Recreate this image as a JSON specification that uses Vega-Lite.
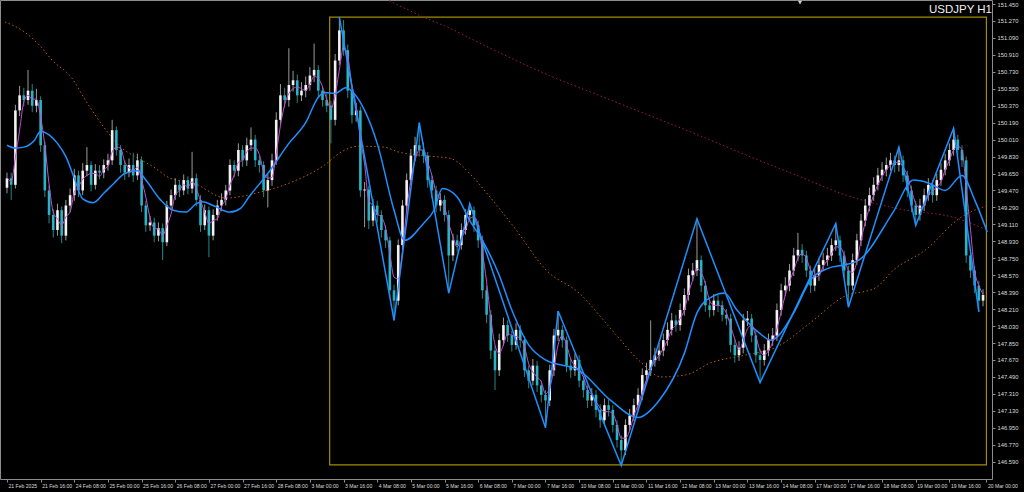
{
"$schema": "https://vega.github.io/schema/vega-lite/v6.json",
"width": 992, "height": 479,
"autosize": {"type": "none"},
"padding": {"left": 0, "top": 0, "right": 32, "bottom": 13},
"background": "#000000",
"config": {"view": {"stroke": "#8c8c8c", "strokeWidth": 1}, "axis": {"grid": false}},
"title": {"text": "USDJPY H1", "anchor": "end", "frame": "group", "offset": -15, "fontSize": 11.5, "font": "Liberation Sans", "fontWeight": "normal", "color": "#f0f0f0"},
"datasets": {
"candles": [
{"i":0,"o":149.5,"c":149.6,"h":149.66,"l":149.44,"m":149.6},
{"i":2,"o":149.6,"c":149.53,"h":149.66,"l":149.37,"m":149.57},
{"i":4,"o":149.53,"c":150.32,"h":150.38,"l":149.49,"m":149.82},
{"i":6,"o":150.32,"c":150.48,"h":150.58,"l":150.26,"m":150.11},
{"i":8,"o":150.48,"c":150.43,"h":150.56,"l":150.36,"m":150.41},
{"i":10,"o":150.43,"c":150.53,"h":150.75,"l":150.38,"m":150.48},
{"i":12,"o":150.53,"c":150.37,"h":150.6,"l":150.3,"m":150.44},
{"i":14,"o":150.37,"c":150.43,"h":150.55,"l":150.3,"m":150.44},
{"i":16,"o":150.43,"c":149.95,"h":150.47,"l":149.88,"m":150.25},
{"i":18,"o":149.95,"c":149.47,"h":149.99,"l":149.4,"m":149.95},
{"i":20,"o":149.47,"c":149.21,"h":149.52,"l":149.12,"m":149.54},
{"i":22,"o":149.21,"c":149.05,"h":149.27,"l":148.97,"m":149.24},
{"i":24,"o":149.05,"c":149.26,"h":149.33,"l":148.99,"m":149.17},
{"i":26,"o":149.26,"c":148.99,"h":149.3,"l":148.91,"m":149.1},
{"i":28,"o":148.99,"c":149.31,"h":149.37,"l":148.94,"m":149.19},
{"i":30,"o":149.31,"c":149.42,"h":149.49,"l":149.24,"m":149.24},
{"i":32,"o":149.42,"c":149.63,"h":149.7,"l":149.36,"m":149.45},
{"i":34,"o":149.63,"c":149.47,"h":149.68,"l":149.4,"m":149.51},
{"i":36,"o":149.47,"c":149.68,"h":149.76,"l":149.42,"m":149.59},
{"i":38,"o":149.68,"c":149.74,"h":149.93,"l":149.62,"m":149.63},
{"i":40,"o":149.74,"c":149.53,"h":149.78,"l":149.46,"m":149.65},
{"i":42,"o":149.53,"c":149.68,"h":149.75,"l":149.48,"m":149.65},
{"i":44,"o":149.68,"c":149.66,"h":149.74,"l":149.59,"m":149.62},
{"i":46,"o":149.66,"c":149.74,"h":149.8,"l":149.6,"m":149.69},
{"i":48,"o":149.74,"c":149.79,"h":149.86,"l":149.68,"m":149.73},
{"i":50,"o":149.79,"c":150.11,"h":150.22,"l":149.74,"m":149.88},
{"i":52,"o":150.11,"c":149.9,"h":150.15,"l":149.84,"m":149.93},
{"i":54,"o":149.9,"c":149.74,"h":149.95,"l":149.66,"m":149.92},
{"i":56,"o":149.74,"c":149.66,"h":149.79,"l":149.58,"m":149.77},
{"i":58,"o":149.66,"c":149.74,"h":149.81,"l":149.61,"m":149.71},
{"i":60,"o":149.74,"c":149.63,"h":149.87,"l":149.56,"m":149.68},
{"i":62,"o":149.63,"c":149.79,"h":149.86,"l":149.58,"m":149.72},
{"i":64,"o":149.79,"c":149.31,"h":149.83,"l":149.24,"m":149.58},
{"i":66,"o":149.31,"c":149.1,"h":149.36,"l":149.03,"m":149.4},
{"i":68,"o":149.1,"c":149.13,"h":149.2,"l":149.04,"m":149.18},
{"i":70,"o":149.13,"c":148.99,"h":149.18,"l":148.92,"m":149.07},
{"i":72,"o":148.99,"c":149.07,"h":149.13,"l":148.93,"m":149.06},
{"i":74,"o":149.07,"c":148.92,"h":149.12,"l":148.73,"m":148.99},
{"i":76,"o":148.92,"c":149.31,"h":149.36,"l":148.88,"m":149.1},
{"i":78,"o":149.31,"c":149.42,"h":149.48,"l":149.26,"m":149.22},
{"i":80,"o":149.42,"c":149.53,"h":149.6,"l":149.37,"m":149.42},
{"i":82,"o":149.53,"c":149.47,"h":149.58,"l":149.4,"m":149.47},
{"i":84,"o":149.47,"c":149.58,"h":149.64,"l":149.42,"m":149.53},
{"i":86,"o":149.58,"c":149.49,"h":149.62,"l":149.43,"m":149.51},
{"i":88,"o":149.49,"c":149.6,"h":149.88,"l":149.44,"m":149.56},
{"i":90,"o":149.6,"c":149.37,"h":149.65,"l":149.3,"m":149.49},
{"i":92,"o":149.37,"c":149.1,"h":149.42,"l":149.03,"m":149.36},
{"i":94,"o":149.1,"c":149.26,"h":149.32,"l":149.05,"m":149.24},
{"i":96,"o":149.26,"c":148.99,"h":149.3,"l":148.76,"m":149.12},
{"i":98,"o":148.99,"c":149.21,"h":149.27,"l":148.94,"m":149.15},
{"i":100,"o":149.21,"c":149.31,"h":149.37,"l":149.15,"m":149.17},
{"i":102,"o":149.31,"c":149.37,"h":149.44,"l":149.25,"m":149.3},
{"i":104,"o":149.37,"c":149.47,"h":149.53,"l":149.31,"m":149.38},
{"i":106,"o":149.47,"c":149.74,"h":149.8,"l":149.42,"m":149.53},
{"i":108,"o":149.74,"c":149.68,"h":149.79,"l":149.61,"m":149.63},
{"i":110,"o":149.68,"c":149.9,"h":149.97,"l":149.62,"m":149.77},
{"i":112,"o":149.9,"c":149.79,"h":149.95,"l":149.72,"m":149.79},
{"i":114,"o":149.79,"c":149.95,"h":150.03,"l":149.73,"m":149.88},
{"i":116,"o":149.95,"c":150.01,"h":150.14,"l":149.89,"m":149.92},
{"i":118,"o":150.01,"c":149.79,"h":150.06,"l":149.72,"m":149.92},
{"i":120,"o":149.79,"c":149.74,"h":149.84,"l":149.66,"m":149.85},
{"i":122,"o":149.74,"c":149.47,"h":149.78,"l":149.4,"m":149.67},
{"i":124,"o":149.47,"c":149.58,"h":149.64,"l":149.29,"m":149.6},
{"i":126,"o":149.58,"c":149.79,"h":149.86,"l":149.52,"m":149.61},
{"i":128,"o":149.79,"c":150.22,"h":150.3,"l":149.74,"m":149.86},
{"i":130,"o":150.22,"c":150.48,"h":150.6,"l":150.16,"m":150.16},
{"i":132,"o":150.48,"c":150.43,"h":150.56,"l":150.35,"m":150.38},
{"i":134,"o":150.43,"c":150.59,"h":150.98,"l":150.36,"m":150.5},
{"i":136,"o":150.59,"c":150.64,"h":150.74,"l":150.52,"m":150.55},
{"i":138,"o":150.64,"c":150.48,"h":150.7,"l":150.4,"m":150.57},
{"i":140,"o":150.48,"c":150.53,"h":150.62,"l":150.42,"m":150.55},
{"i":142,"o":150.53,"c":150.59,"h":150.68,"l":150.46,"m":150.53},
{"i":144,"o":150.59,"c":150.69,"h":150.78,"l":150.53,"m":150.6},
{"i":146,"o":150.69,"c":150.75,"h":151.03,"l":150.62,"m":150.68},
{"i":148,"o":150.75,"c":150.53,"h":150.8,"l":150.46,"m":150.66},
{"i":150,"o":150.53,"c":150.43,"h":150.58,"l":150.36,"m":150.57},
{"i":152,"o":150.43,"c":150.37,"h":150.5,"l":150.3,"m":150.44},
{"i":154,"o":150.37,"c":150.22,"h":150.42,"l":149.97,"m":150.34},
{"i":156,"o":150.22,"c":150.85,"h":150.92,"l":150.16,"m":150.48},
{"i":158,"o":150.85,"c":151.17,"h":151.31,"l":150.8,"m":150.75},
{"i":160,"o":151.17,"c":150.96,"h":151.28,"l":150.9,"m":150.99},
{"i":162,"o":150.96,"c":150.53,"h":151.02,"l":150.45,"m":150.89},
{"i":164,"o":150.53,"c":150.27,"h":150.58,"l":150.18,"m":150.59},
{"i":166,"o":150.27,"c":150.32,"h":150.4,"l":150.2,"m":150.37},
{"i":168,"o":150.32,"c":149.47,"h":150.36,"l":149.4,"m":150.02},
{"i":170,"o":149.47,"c":149.48,"h":149.56,"l":149.08,"m":149.75},
{"i":172,"o":149.48,"c":149.15,"h":149.52,"l":149.06,"m":149.36},
{"i":174,"o":149.15,"c":149.31,"h":149.38,"l":149.09,"m":149.31},
{"i":176,"o":149.31,"c":149.21,"h":149.36,"l":149.13,"m":149.22},
{"i":178,"o":149.21,"c":149.05,"h":149.26,"l":148.97,"m":149.19},
{"i":180,"o":149.05,"c":148.94,"h":149.1,"l":148.86,"m":149.07},
{"i":182,"o":148.94,"c":148.41,"h":148.98,"l":148.33,"m":148.8},
{"i":184,"o":148.41,"c":148.3,"h":148.47,"l":148.09,"m":148.55},
{"i":186,"o":148.3,"c":148.89,"h":148.95,"l":148.25,"m":148.53},
{"i":188,"o":148.89,"c":149.31,"h":149.37,"l":148.84,"m":148.83},
{"i":190,"o":149.31,"c":149.58,"h":149.65,"l":149.25,"m":149.26},
{"i":192,"o":149.58,"c":149.84,"h":149.91,"l":149.52,"m":149.58},
{"i":194,"o":149.84,"c":149.95,"h":150.04,"l":149.78,"m":149.79},
{"i":196,"o":149.95,"c":149.9,"h":150.19,"l":149.83,"m":149.9},
{"i":198,"o":149.9,"c":149.84,"h":149.98,"l":149.76,"m":149.9},
{"i":200,"o":149.84,"c":149.58,"h":149.88,"l":149.5,"m":149.77},
{"i":202,"o":149.58,"c":149.47,"h":149.63,"l":149.39,"m":149.63},
{"i":204,"o":149.47,"c":149.31,"h":149.52,"l":149.24,"m":149.45},
{"i":206,"o":149.31,"c":149.37,"h":149.44,"l":149.25,"m":149.38},
{"i":208,"o":149.37,"c":149.21,"h":149.42,"l":149.14,"m":149.3},
{"i":210,"o":149.21,"c":148.78,"h":149.26,"l":148.38,"m":149.12},
{"i":212,"o":148.78,"c":148.94,"h":149.01,"l":148.72,"m":148.98},
{"i":214,"o":148.94,"c":148.89,"h":149.0,"l":148.82,"m":148.87},
{"i":216,"o":148.89,"c":149.05,"h":149.12,"l":148.84,"m":148.96},
{"i":218,"o":149.05,"c":149.21,"h":149.27,"l":149.0,"m":149.05},
{"i":220,"o":149.21,"c":149.26,"h":149.33,"l":149.15,"m":149.17},
{"i":222,"o":149.26,"c":149.1,"h":149.3,"l":149.03,"m":149.19},
{"i":224,"o":149.1,"c":148.94,"h":149.15,"l":148.86,"m":149.1},
{"i":226,"o":148.94,"c":148.41,"h":148.99,"l":148.32,"m":148.82},
{"i":228,"o":148.41,"c":148.15,"h":148.46,"l":148.06,"m":148.5},
{"i":230,"o":148.15,"c":147.77,"h":148.2,"l":147.68,"m":148.11},
{"i":232,"o":147.77,"c":147.56,"h":147.82,"l":147.35,"m":147.83},
{"i":234,"o":147.56,"c":147.88,"h":147.95,"l":147.5,"m":147.74},
{"i":236,"o":147.88,"c":148.04,"h":148.12,"l":147.82,"m":147.83},
{"i":238,"o":148.04,"c":147.93,"h":148.09,"l":147.86,"m":147.95},
{"i":240,"o":147.93,"c":147.83,"h":147.98,"l":147.76,"m":147.93},
{"i":242,"o":147.83,"c":147.99,"h":148.06,"l":147.78,"m":147.92},
{"i":244,"o":147.99,"c":147.88,"h":148.04,"l":147.8,"m":147.9},
{"i":246,"o":147.88,"c":147.56,"h":147.92,"l":147.49,"m":147.81},
{"i":248,"o":147.56,"c":147.45,"h":147.61,"l":147.37,"m":147.63},
{"i":250,"o":147.45,"c":147.61,"h":147.68,"l":147.4,"m":147.54},
{"i":252,"o":147.61,"c":147.4,"h":147.66,"l":147.33,"m":147.49},
{"i":254,"o":147.4,"c":147.3,"h":147.45,"l":147.22,"m":147.44},
{"i":256,"o":147.3,"c":147.24,"h":147.35,"l":146.95,"m":147.31},
{"i":258,"o":147.24,"c":147.56,"h":147.62,"l":147.18,"m":147.37},
{"i":260,"o":147.56,"c":147.93,"h":148.0,"l":147.5,"m":147.58},
{"i":262,"o":147.93,"c":147.99,"h":148.19,"l":147.87,"m":147.83},
{"i":264,"o":147.99,"c":147.88,"h":148.04,"l":147.8,"m":147.93},
{"i":266,"o":147.88,"c":147.61,"h":147.92,"l":147.54,"m":147.83},
{"i":268,"o":147.61,"c":147.56,"h":147.68,"l":147.48,"m":147.68},
{"i":270,"o":147.56,"c":147.67,"h":147.74,"l":147.5,"m":147.61},
{"i":272,"o":147.67,"c":147.45,"h":147.72,"l":147.38,"m":147.56},
{"i":274,"o":147.45,"c":147.35,"h":147.5,"l":147.27,"m":147.49},
{"i":276,"o":147.35,"c":147.24,"h":147.4,"l":147.16,"m":147.35},
{"i":278,"o":147.24,"c":147.3,"h":147.37,"l":147.18,"m":147.3},
{"i":280,"o":147.3,"c":147.14,"h":147.35,"l":147.06,"m":147.23},
{"i":282,"o":147.14,"c":147.03,"h":147.2,"l":146.95,"m":147.16},
{"i":284,"o":147.03,"c":147.19,"h":147.26,"l":146.98,"m":147.12},
{"i":286,"o":147.19,"c":147.14,"h":147.25,"l":147.07,"m":147.12},
{"i":288,"o":147.14,"c":146.98,"h":147.19,"l":146.9,"m":147.1},
{"i":290,"o":146.98,"c":146.82,"h":147.03,"l":146.74,"m":146.98},
{"i":292,"o":146.82,"c":146.71,"h":146.87,"l":146.55,"m":146.84},
{"i":294,"o":146.71,"c":146.98,"h":147.04,"l":146.66,"m":146.84},
{"i":296,"o":146.98,"c":147.08,"h":147.15,"l":146.92,"m":146.92},
{"i":298,"o":147.08,"c":147.19,"h":147.26,"l":147.02,"m":147.08},
{"i":300,"o":147.19,"c":147.3,"h":147.37,"l":147.13,"m":147.19},
{"i":302,"o":147.3,"c":147.51,"h":147.58,"l":147.24,"m":147.33},
{"i":304,"o":147.51,"c":147.56,"h":147.64,"l":147.45,"m":147.46},
{"i":306,"o":147.56,"c":147.67,"h":148.09,"l":147.5,"m":147.58},
{"i":308,"o":147.67,"c":147.72,"h":147.8,"l":147.6,"m":147.65},
{"i":310,"o":147.72,"c":147.77,"h":147.85,"l":147.66,"m":147.72},
{"i":312,"o":147.77,"c":147.88,"h":147.95,"l":147.71,"m":147.79},
{"i":314,"o":147.88,"c":147.99,"h":148.07,"l":147.82,"m":147.88},
{"i":316,"o":147.99,"c":148.09,"h":148.17,"l":147.93,"m":147.99},
{"i":318,"o":148.09,"c":148.04,"h":148.15,"l":147.97,"m":148.04},
{"i":320,"o":148.04,"c":148.2,"h":148.27,"l":147.98,"m":148.11},
{"i":322,"o":148.2,"c":148.36,"h":148.43,"l":148.14,"m":148.2},
{"i":324,"o":148.36,"c":148.57,"h":148.64,"l":148.3,"m":148.38},
{"i":326,"o":148.57,"c":148.62,"h":148.7,"l":148.51,"m":148.52},
{"i":328,"o":148.62,"c":148.73,"h":149.17,"l":148.56,"m":148.64},
{"i":330,"o":148.73,"c":148.46,"h":148.78,"l":148.39,"m":148.6},
{"i":332,"o":148.46,"c":148.25,"h":148.51,"l":148.18,"m":148.48},
{"i":334,"o":148.25,"c":148.2,"h":148.31,"l":148.12,"m":148.3},
{"i":336,"o":148.2,"c":148.3,"h":148.37,"l":148.14,"m":148.25},
{"i":338,"o":148.3,"c":148.25,"h":148.36,"l":148.18,"m":148.25},
{"i":340,"o":148.25,"c":148.15,"h":148.3,"l":148.08,"m":148.23},
{"i":342,"o":148.15,"c":148.11,"h":148.21,"l":148.04,"m":148.17},
{"i":344,"o":148.11,"c":147.83,"h":148.16,"l":147.75,"m":148.03},
{"i":346,"o":147.83,"c":147.72,"h":147.89,"l":147.64,"m":147.89},
{"i":348,"o":147.72,"c":147.8,"h":147.87,"l":147.66,"m":147.78},
{"i":350,"o":147.8,"c":148.09,"h":148.16,"l":147.74,"m":147.87},
{"i":352,"o":148.09,"c":148.11,"h":148.19,"l":148.03,"m":148.0},
{"i":354,"o":148.11,"c":147.93,"h":148.16,"l":147.86,"m":148.04},
{"i":356,"o":147.93,"c":147.72,"h":147.98,"l":147.64,"m":147.92},
{"i":358,"o":147.72,"c":147.67,"h":147.78,"l":147.43,"m":147.77},
{"i":360,"o":147.67,"c":147.77,"h":147.84,"l":147.61,"m":147.72},
{"i":362,"o":147.77,"c":147.88,"h":147.95,"l":147.71,"m":147.77},
{"i":364,"o":147.88,"c":147.93,"h":148.01,"l":147.82,"m":147.86},
{"i":366,"o":147.93,"c":148.2,"h":148.27,"l":147.87,"m":148.0},
{"i":368,"o":148.2,"c":148.41,"h":148.48,"l":148.14,"m":148.18},
{"i":370,"o":148.41,"c":148.46,"h":148.55,"l":148.35,"m":148.36},
{"i":372,"o":148.46,"c":148.62,"h":148.69,"l":148.4,"m":148.5},
{"i":374,"o":148.62,"c":148.78,"h":148.86,"l":148.56,"m":148.62},
{"i":376,"o":148.78,"c":148.84,"h":149.02,"l":148.72,"m":148.75},
{"i":378,"o":148.84,"c":148.78,"h":148.9,"l":148.7,"m":148.8},
{"i":380,"o":148.78,"c":148.62,"h":148.83,"l":148.55,"m":148.75},
{"i":382,"o":148.62,"c":148.46,"h":148.67,"l":148.38,"m":148.62},
{"i":384,"o":148.46,"c":148.57,"h":148.64,"l":148.4,"m":148.55},
{"i":386,"o":148.57,"c":148.68,"h":148.75,"l":148.51,"m":148.57},
{"i":388,"o":148.68,"c":148.73,"h":148.81,"l":148.62,"m":148.66},
{"i":390,"o":148.73,"c":148.78,"h":148.86,"l":148.67,"m":148.73},
{"i":392,"o":148.78,"c":148.89,"h":148.96,"l":148.72,"m":148.8},
{"i":394,"o":148.89,"c":148.94,"h":149.12,"l":148.83,"m":148.87},
{"i":396,"o":148.94,"c":148.78,"h":148.99,"l":148.71,"m":148.87},
{"i":398,"o":148.78,"c":148.62,"h":148.83,"l":148.55,"m":148.78},
{"i":400,"o":148.62,"c":148.46,"h":148.67,"l":148.23,"m":148.62},
{"i":402,"o":148.46,"c":148.73,"h":148.8,"l":148.41,"m":148.6},
{"i":404,"o":148.73,"c":148.94,"h":149.01,"l":148.68,"m":148.71},
{"i":406,"o":148.94,"c":149.15,"h":149.22,"l":148.88,"m":148.94},
{"i":408,"o":149.15,"c":149.31,"h":149.38,"l":149.09,"m":149.13},
{"i":410,"o":149.31,"c":149.42,"h":149.5,"l":149.25,"m":149.29},
{"i":412,"o":149.42,"c":149.53,"h":149.61,"l":149.36,"m":149.42},
{"i":414,"o":149.53,"c":149.63,"h":149.71,"l":149.47,"m":149.53},
{"i":416,"o":149.63,"c":149.69,"h":149.77,"l":149.57,"m":149.62},
{"i":418,"o":149.69,"c":149.74,"h":149.82,"l":149.62,"m":149.69},
{"i":420,"o":149.74,"c":149.79,"h":149.87,"l":149.68,"m":149.74},
{"i":422,"o":149.79,"c":149.74,"h":149.84,"l":149.66,"m":149.76},
{"i":424,"o":149.74,"c":149.79,"h":149.93,"l":149.67,"m":149.77},
{"i":426,"o":149.79,"c":149.63,"h":149.84,"l":149.56,"m":149.72},
{"i":428,"o":149.63,"c":149.47,"h":149.68,"l":149.4,"m":149.63},
{"i":430,"o":149.47,"c":149.31,"h":149.52,"l":149.24,"m":149.47},
{"i":432,"o":149.31,"c":149.21,"h":149.36,"l":149.1,"m":149.33},
{"i":434,"o":149.21,"c":149.31,"h":149.38,"l":149.15,"m":149.28},
{"i":436,"o":149.31,"c":149.42,"h":149.49,"l":149.25,"m":149.31},
{"i":438,"o":149.42,"c":149.53,"h":149.6,"l":149.36,"m":149.42},
{"i":440,"o":149.53,"c":149.42,"h":149.58,"l":149.34,"m":149.46},
{"i":442,"o":149.42,"c":149.58,"h":149.65,"l":149.36,"m":149.51},
{"i":444,"o":149.58,"c":149.69,"h":149.76,"l":149.52,"m":149.56},
{"i":446,"o":149.69,"c":149.79,"h":149.86,"l":149.63,"m":149.69},
{"i":448,"o":149.79,"c":149.9,"h":149.97,"l":149.73,"m":149.79},
{"i":450,"o":149.9,"c":150.01,"h":150.13,"l":149.84,"m":149.9},
{"i":452,"o":150.01,"c":149.9,"h":150.06,"l":149.83,"m":149.94},
{"i":454,"o":149.9,"c":149.79,"h":149.95,"l":149.72,"m":149.9},
{"i":456,"o":149.79,"c":148.78,"h":149.83,"l":148.7,"m":149.49},
{"i":458,"o":148.78,"c":148.62,"h":148.84,"l":148.54,"m":149.06},
{"i":460,"o":148.62,"c":148.46,"h":148.67,"l":148.38,"m":148.62},
{"i":462,"o":148.46,"c":148.3,"h":148.51,"l":148.18,"m":148.46},
{"i":464,"o":148.3,"c":148.36,"h":148.42,"l":148.24,"m":148.37}
],
"ma": [
{"i":0,"p":149.95},{"i":4,"p":149.92},{"i":8,"p":149.93},{"i":13,"p":150.0},{"i":16,"p":150.1},{"i":20,"p":150.06},{"i":24,"p":149.97},{"i":28,"p":149.83},{"i":32,"p":149.6},{"i":36,"p":149.38},{"i":41,"p":149.34},{"i":46,"p":149.44},{"i":51,"p":149.55},{"i":56,"p":149.65},{"i":62,"p":149.68},{"i":66,"p":149.58},{"i":73,"p":149.37},{"i":79,"p":149.26},{"i":85,"p":149.24},{"i":90,"p":149.33},{"i":93,"p":149.35},{"i":98,"p":149.31},{"i":106,"p":149.24},{"i":111,"p":149.28},{"i":115,"p":149.4},{"i":125,"p":149.68},{"i":134,"p":149.97},{"i":142,"p":150.19},{"i":148,"p":150.46},{"i":151,"p":150.51},{"i":156,"p":150.5},{"i":161,"p":150.56},{"i":165,"p":150.5},{"i":170,"p":150.32},{"i":176,"p":149.97},{"i":184,"p":149.26},{"i":189,"p":148.94},{"i":198,"p":149.12},{"i":203,"p":149.26},{"i":207,"p":149.49},{"i":214,"p":149.4},{"i":220,"p":149.15},{"i":226,"p":148.94},{"i":234,"p":148.57},{"i":240,"p":148.2},{"i":248,"p":147.83},{"i":256,"p":147.67},{"i":272,"p":147.56},{"i":287,"p":147.24},{"i":300,"p":147.06},{"i":310,"p":147.24},{"i":322,"p":147.74},{"i":328,"p":148.17},{"i":335,"p":148.34},{"i":341,"p":148.38},{"i":347,"p":148.2},{"i":358,"p":147.95},{"i":363,"p":147.88},{"i":374,"p":148.17},{"i":382,"p":148.52},{"i":390,"p":148.64},{"i":398,"p":148.68},{"i":405,"p":148.73},{"i":421,"p":149.23},{"i":431,"p":149.58},{"i":438,"p":149.55},{"i":446,"p":149.47},{"i":454,"p":149.63},{"i":460,"p":149.37},{"i":466,"p":149.03}
],
"ma100": [
{"i":-1,"p":151.26},{"i":8.5,"p":151.15},{"i":15.5,"p":151.01},{"i":21.6,"p":150.85},{"i":30.6,"p":150.67},{"i":38.1,"p":150.4},{"i":46.1,"p":150.14},{"i":54.1,"p":149.93},{"i":61.6,"p":149.82},{"i":69.6,"p":149.72},{"i":77.6,"p":149.6},{"i":88.5,"p":149.55},{"i":104,"p":149.39},{"i":120,"p":149.45},{"i":135.5,"p":149.56},{"i":151,"p":149.74},{"i":159,"p":149.88},{"i":167,"p":149.94},{"i":179.3,"p":149.93},{"i":185.9,"p":149.88},{"i":198.1,"p":149.84},{"i":210.8,"p":149.81},{"i":221.6,"p":149.61},{"i":229.6,"p":149.4},{"i":241.4,"p":149.07},{"i":256.5,"p":148.62},{"i":272,"p":148.38},{"i":287.5,"p":147.99},{"i":301.6,"p":147.64},{"i":311,"p":147.49},{"i":322.4,"p":147.51},{"i":334.6,"p":147.64},{"i":350.6,"p":147.72},{"i":366.1,"p":147.81},{"i":381.6,"p":148.06},{"i":397.6,"p":148.34},{"i":413.2,"p":148.44},{"i":421.2,"p":148.62},{"i":436.7,"p":148.84},{"i":453.2,"p":149.18},{"i":466,"p":149.31}
],
"ma200": [
{"i":173.2,"p":151.58},{"i":184,"p":151.46},{"i":198.1,"p":151.31},{"i":210.8,"p":151.19},{"i":221.6,"p":151.07},{"i":234.4,"p":150.93},{"i":257.9,"p":150.69},{"i":281.4,"p":150.48},{"i":305,"p":150.27},{"i":328.5,"p":150.06},{"i":352,"p":149.84},{"i":375.5,"p":149.63},{"i":399,"p":149.42},{"i":422.6,"p":149.28},{"i":452.2,"p":149.17},{"i":466,"p":149.05}
],
"zz": [
{"i":158,"p":151.31},{"i":184,"p":148.09},{"i":196,"p":150.19},{"i":210,"p":148.38},{"i":220,"p":149.33},{"i":256,"p":146.95},{"i":262,"p":148.19},{"i":292,"p":146.55},{"i":328,"p":149.17},{"i":358,"p":147.43},{"i":394,"p":149.12},{"i":400,"p":148.23},{"i":424,"p":149.93},{"i":432,"p":149.1},{"i":450,"p":150.13},{"i":462,"p":148.18}
],
"box": [{"a":153.4,"b":465.6,"p1":146.555,"p2":151.31}],
"marker": [{"i":377,"p":151.465}]
},
"encoding": {
"x": {"field": "i", "type": "quantitative", "scale": {"domain": [-0.94, 465.88], "nice": false, "zero": false},
"axis": {"title": null, "grid": false, "domain": false,
"values": [0,16,32,48,64,80,96,112,128,144,160,176,192,208,224,240,256,272,288,304,320,336,352,368,384,400,416,432,448,465.6],
"labelExpr": "['21 Feb 2025','21 Feb 16:00','24 Feb 08:00','25 Feb 00:00','25 Feb 16:00','26 Feb 08:00','27 Feb 00:00','27 Feb 16:00','28 Feb 08:00','3 Mar 00:00','3 Mar 16:00','4 Mar 08:00','5 Mar 00:00','5 Mar 16:00','6 Mar 08:00','7 Mar 00:00','7 Mar 16:00','10 Mar 08:00','11 Mar 00:00','11 Mar 16:00','12 Mar 08:00','13 Mar 00:00','13 Mar 16:00','14 Mar 08:00','17 Mar 00:00','17 Mar 16:00','18 Mar 08:00','19 Mar 00:00','19 Mar 16:00','20 Mar 00:00'][round(datum.value/16)]",
"labelAlign": "left", "labelBaseline": "top", "labelFontSize": 5.1, "labelFont": "Liberation Sans", "labelColor": "#dcdcdc",
"labelPadding": 1, "labelOffset": 1, "tickColor": "#8c8c8c", "tickSize": 3, "labelOverlap": false, "labelFlush": false, "labelBound": false}},
"y": {"field": "p", "type": "quantitative", "scale": {"domain": [146.406, 151.4925], "nice": false, "zero": false},
"axis": {"title": null, "orient": "right", "grid": false, "domain": false, "values": [146.59,146.77,146.95,147.13,147.31,147.49,147.67,147.85,148.03,148.21,148.39,148.57,148.75,148.93,149.11,149.29,149.47,149.65,149.83,150.01,150.19,150.37,150.55,150.73,150.91,151.09,151.27,151.45],
"format": ".3f", "labelAlign": "left", "labelBaseline": "middle", "labelFontSize": 5.8, "labelFont": "Liberation Sans", "labelColor": "#dcdcdc", "labelPadding": 2, "tickColor": "#8c8c8c", "tickSize": 3, "labelOverlap": false, "labelFlush": false, "labelBound": false}}
},
"layer": [
{"data": {"name": "box"}, "mark": {"type": "rect", "fill": "transparent", "stroke": "#a08c00", "strokeWidth": 1.2, "clip": true},
"encoding": {"x": {"field": "a", "type": "quantitative"}, "x2": {"field": "b"},
"y": {"field": "p1", "type": "quantitative"}, "y2": {"field": "p2"}}},
{"data": {"name": "ma200"}, "mark": {"type": "line", "color": "#a01c50", "strokeWidth": 1, "strokeDash": [1.5, 2.5], "interpolate": "monotone", "clip": true}},
{"data": {"name": "ma100"}, "mark": {"type": "line", "color": "#c0600a", "strokeWidth": 1, "strokeDash": [1.5, 2.5], "interpolate": "monotone", "clip": true}},
{"data": {"name": "candles"}, "mark": {"type": "rule", "strokeWidth": 1, "clip": true},
"encoding": {"y": {"field": "l", "type": "quantitative"}, "y2": {"field": "h"},
"color": {"condition": {"test": "datum.c >= datum.o", "value": "#9a9a9a"}, "value": "#2a8585"}}},
{"data": {"name": "candles"}, "mark": {"type": "bar", "width": 2.6, "clip": true},
"encoding": {"y": {"field": "o", "type": "quantitative"}, "y2": {"field": "c"},
"color": {"condition": {"test": "datum.c >= datum.o", "value": "#f2f2f2"}, "value": "#28b4c4"}}},
{"data": {"name": "ma"}, "mark": {"type": "line", "color": "#1e90ff", "strokeWidth": 1.5, "interpolate": "monotone", "clip": true}},
{"data": {"name": "candles"}, "mark": {"type": "line", "color": "#c050d0", "strokeWidth": 1, "interpolate": "monotone", "clip": true},
"encoding": {"y": {"field": "m", "type": "quantitative"}}},
{"data": {"name": "zz"}, "mark": {"type": "line", "color": "#1e90ff", "strokeWidth": 1.5, "clip": true}},
{"data": {"name": "marker"}, "mark": {"type": "point", "shape": "triangle-down", "size": 18, "filled": true, "color": "#cccccc", "opacity": 1, "clip": true}}
]
}
